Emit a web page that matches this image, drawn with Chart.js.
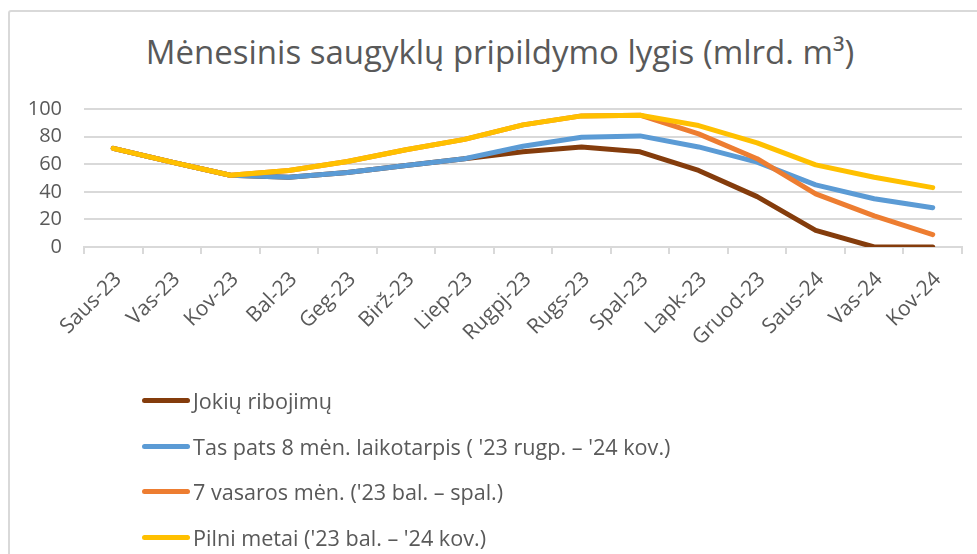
<!DOCTYPE html>
<html lang="lt">
<head>
<meta charset="utf-8">
<title>Mėnesinis saugyklų pripildymo lygis</title>
<script src="https://cdn.jsdelivr.net/npm/chart.js@4.4.1/dist/chart.umd.min.js"></script>
<style>
    html, body { margin: 0; padding: 0; background: #fff; overflow: hidden; }
    #wrap { position: relative; width: 977px; height: 554px; }
    #frame { position: absolute; left: 8px; top: 10px; width: 990px; height: 560px;
             border: 2px solid #d9d9d9; border-radius: 3px; box-sizing: border-box; }
    #chart { position: absolute; left: 0; top: 0; }
    #title { position: absolute; left: 0; top: 32px; width: 1000px; text-align: center;
             font-family: "Open Sans", sans-serif; font-size: 33px; line-height: 40px; color: #595959; }
    #legend { position: absolute; left: 142px; top: 378px; font-family: "Open Sans", sans-serif;
              font-size: 21.6px; color: #595959; }
    .item { height: 45.5px; display: flex; align-items: center; white-space: nowrap; }
    .mark { display: inline-block; width: 48px; height: 5px; border-radius: 3px; margin-right: 3px; }
</style>
</head>
<body>
<div id="wrap">
    <div id="frame"></div>
    <div id="title">Mėnesinis saugyklų pripildymo lygis (mlrd. m³)</div>
    <canvas id="chart" width="977" height="554"></canvas>
    <div id="legend"></div>
</div>
<script>
// Data (mlrd. m3)
const months = ['Saus-23', 'Vas-23', 'Kov-23', 'Bal-23', 'Geg-23', 'Birž-23', 'Liep-23',
    'Rugpj-23', 'Rugs-23', 'Spal-23', 'Lapk-23', 'Gruod-23', 'Saus-24', 'Vas-24', 'Kov-24'];

const noLimits    = [71.5, 61.5, 52, 50.5, 54, 59, 64, 69, 72.5, 69, 55.5, 36.5, 12, 0, 0];
const same8Months = [71.5, 61.5, 52, 50.5, 54, 59, 64, 73, 79.5, 80.5, 72.5, 61.5, 45, 35, 28.5];
const summer7     = [71.5, 61.5, 52, 55.5, 62, 70.5, 78, 88.5, 95, 95.5, 82, 64, 38.5, 22.5, 9];
const fullYear    = [71.5, 61.5, 52, 55.5, 62, 70.5, 78, 88.5, 95, 95.5, 88, 75.5, 59.5, 50.5, 43];

const seriesNames = [
    'Jokių ribojimų',
    "Tas pats 8 mėn. laikotarpis ( '23 rugp. – '24 kov.)",
    "7 vasaros mėn. ('23 bal. – spal.)",
    "Pilni metai ('23 bal. – '24 kov.)"
];
const seriesColors = ['#843C0C', '#5B9BD5', '#ED7D31', '#FFC000'];
const yTicks = [0, 20, 40, 60, 80, 100];

const FONT = '"Open Sans", sans-serif';
const TEXT = '#595959';
const GRID = '#d9d9d9';

const seriesData = [noLimits, same8Months, summer7, fullYear];

// later series are drawn on top (yellow over the others)
const datasets = seriesData.map((d, i) => ({
    label: seriesNames[i],
    data: d,
    borderColor: seriesColors[i],
    backgroundColor: seriesColors[i],
    order: seriesData.length - i
}));

new Chart(document.getElementById('chart'), {
    type: 'line',
    data: { labels: months, datasets: datasets },
    options: {
        responsive: false,
        animation: false,
        layout: { padding: { left: 23, right: 15, top: 109, bottom: 207 } },
        elements: {
            point: { radius: 0, hoverRadius: 0 },
            line: { borderWidth: 5, borderCapStyle: 'round', borderJoinStyle: 'round', tension: 0 }
        },
        plugins: {
            legend: { display: false },
            tooltip: { enabled: false }
        },
        scales: {
            x: {
                offset: true,
                grid: { offset: true, drawOnChartArea: false, drawTicks: true, tickLength: 7, color: GRID, lineWidth: 2 },
                border: { color: GRID, width: 2 },
                ticks: {
                    autoSkip: false, minRotation: 45, maxRotation: 45,
                    color: TEXT, padding: 13, labelOffset: 5,
                    font: { family: FONT, size: 21 }
                },
                afterFit: function(scale) { scale.height = 100; }
            },
            y: {
                min: 0,
                max: 100,
                afterBuildTicks: function(scale) { scale.ticks = yTicks.map(v => ({ value: v })); },
                grid: { color: GRID, lineWidth: 2, drawTicks: false },
                border: { display: false },
                ticks: { color: TEXT, padding: 22, font: { family: FONT, size: 20 } },
                afterFit: function(scale) { scale.width = 61; }
            }
        }
    }
});

// Vertical legend like the original
const legend = document.getElementById('legend');
seriesNames.forEach((name, i) => {
    const row = document.createElement('div');
    row.className = 'item';
    const mark = document.createElement('span');
    mark.className = 'mark';
    mark.style.background = seriesColors[i];
    row.appendChild(mark);
    row.appendChild(document.createTextNode(name));
    legend.appendChild(row);
});
</script>
</body>
</html>
